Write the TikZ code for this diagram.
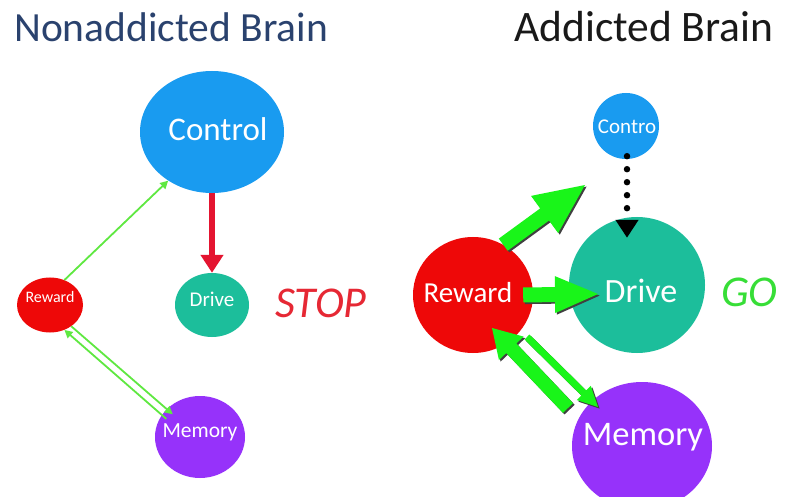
\documentclass[tikz,border=0pt]{standalone}
\usepackage{fontspec}
\setmainfont{Carlito}
\usetikzlibrary{shapes.geometric,arrows.meta,calc}
\definecolor{ctrlblue}{RGB}{25,155,240}
\definecolor{driveteal}{RGB}{28,190,155}
\definecolor{rewardred}{RGB}{238,8,8}
\definecolor{mempurple}{RGB}{150,50,250}
\definecolor{fatgreen}{RGB}{25,245,25}
\definecolor{thingreen}{RGB}{95,232,65}
\definecolor{arrowred}{RGB}{228,20,48}
\definecolor{stopred}{RGB}{230,40,52}
\definecolor{gogreen}{RGB}{55,222,55}
\definecolor{titleblue}{RGB}{42,66,110}
\newcommand\fs[1]{\fontsize{#1}{#1}\selectfont}
\tikzset{
  ell/.style={ellipse, inner sep=0pt, draw=none},
  lbl/.style={text=white, inner sep=0pt, anchor=base},
  thinline/.style={draw=thingreen, line width=1.8pt, -{Triangle[length=8pt,width=8pt]}},
  redarrow/.style={draw=arrowred, line width=6pt, -{Triangle[length=18pt,width=22pt]}},
  dotarrow/.style={draw=black, line width=6.5pt, line cap=round, dash pattern=on 0pt off 13pt, -{Triangle[length=18pt,width=22pt]}},
  arrowshadow/.style={fill=black!75},
  arrowbody/.style={fill=fatgreen},
}
% tail, tip, shaft half width, head half width, head length, prefix
\newcommand\myblockarrow[6]{%
  \path ($(#2)!#5!(#1)$) coordinate (#6b);
  \fill[arrowshadow, transform canvas={shift={(1.6pt,-1.6pt)}}]
    ($(#1)!#3!90:(#2)$) -- ($(#6b)!#3!90:(#2)$) -- ($(#6b)!#4!90:(#2)$) -- (#2)
    -- ($(#6b)!#4!-90:(#2)$) -- ($(#6b)!#3!-90:(#2)$) -- ($(#1)!#3!-90:(#2)$) -- cycle;
  \fill[arrowbody]
    ($(#1)!#3!90:(#2)$) -- ($(#6b)!#3!90:(#2)$) -- ($(#6b)!#4!90:(#2)$) -- (#2)
    -- ($(#6b)!#4!-90:(#2)$) -- ($(#6b)!#3!-90:(#2)$) -- ($(#1)!#3!-90:(#2)$) -- cycle;
}
\begin{document}
\begin{tikzpicture}[x=1pt,y=-1pt]
\useasboundingbox (0,0) rectangle (785,497);
\clip (0,0) rectangle (785,497);
\fill[white] (0,0) rectangle (785,497);

% titles
\node[anchor=base west, inner sep=0pt, text=titleblue, font=\fs{41.5}] (t1) at (14,42) {Nonaddicted Brain};
\node[anchor=base west, inner sep=0pt, text=black!90, font=\fs{43.5}] (t2) at (514,42) {Addicted Brain};

% ---------- left: nonaddicted ----------
\node[ell, fill=ctrlblue, minimum width=144pt, minimum height=122pt] (cL) at (212,132) {};
\node[ell, fill=driveteal, minimum width=74pt, minimum height=64pt] (dL) at (212,305) {};
\node[ell, fill=rewardred, minimum width=66pt, minimum height=55pt] (rL) at (50,305) {};
\node[ell, fill=mempurple, minimum width=90pt, minimum height=82pt] (mL) at (200,437) {};

\draw[redarrow] (cL.south) -- (dL.north);
\draw[thinline] (rL.60) -- (cL.228);
\draw[thinline, shorten <=-6pt] (mL.150) -- (rL.-60);
\draw[thinline, shorten >=-8pt] (rL.-45) -- (mL.140);

\node[lbl, font=\fs{33}] (cLt) at (218,141) {Control};
\node[lbl, font=\fs{21}] (dLt) at (212,306) {Drive};
\node[lbl, font=\fs{16}] (rLt) at (50,303) {Reward};
\node[lbl, font=\fs{21.5}] (mLt) at (200,437) {Memory};

\node[anchor=base west, inner sep=0pt, text=stopred, font=\fs{44}\itshape] (stop) at (275,317) {STOP};

% ---------- right: addicted ----------
\node[ell, fill=ctrlblue, minimum width=66pt, minimum height=66pt] (cR) at (626,126) {};
\node[ell, fill=driveteal, minimum width=136pt, minimum height=136pt] (dR) at (637,285) {};
\node[ell, fill=rewardred, minimum width=120pt, minimum height=116pt] (rR) at (473,295) {};
\node[ell, fill=mempurple, minimum width=140pt, minimum height=128pt] (mR) at (642,446) {};

\coordinate (dotend) at ($(cR.south |- dR.north)+(1,21)$);
\draw[dotarrow] ([xshift=1pt,yshift=3pt]cR.south) -- (dotend);

\coordinate (g1e) at (585,185);
\coordinate (g2s) at ([xshift=-10pt]rR.east);
\coordinate (g2e) at (598,294);
\coordinate (g3s) at (568,408);
\coordinate (g3e) at (492,328);
\coordinate (g4s) at (527,337);
\coordinate (g4e) at (598,407);

\myblockarrow{rR.59}{g1e}{7.5pt}{23pt}{50pt}{ga}
\myblockarrow{g2s}{g2e}{7.5pt}{18.5pt}{43pt}{gb}
\myblockarrow{g3s}{g3e}{7pt}{17pt}{28pt}{gc}
\myblockarrow{g4s}{g4e}{3.5pt}{10pt}{20pt}{gd}

\node[lbl, font=\fs{21}] (cRt) at (627,134) {Contro};
\node[lbl, font=\fs{29}] (rRt) at (468,302) {Reward};
\node[lbl, font=\fs{34}] (dRt) at (641,303) {Drive};
\node[lbl, font=\fs{34.5}] (mRt) at (643,445) {Memory};

\node[anchor=base west, inner sep=0pt, text=gogreen, font=\fs{44}\itshape] (go) at (721,306) {GO};
\end{tikzpicture}
\end{document}
